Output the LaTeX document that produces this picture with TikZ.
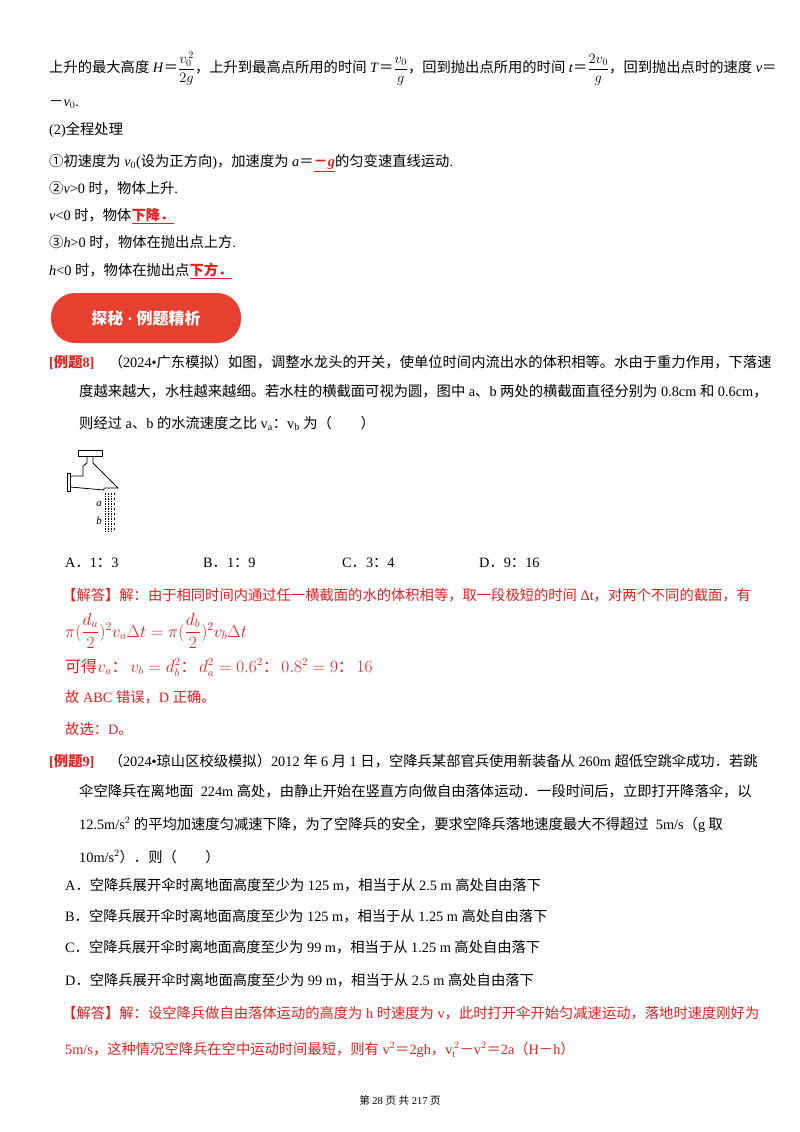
\documentclass[tikz,border=0pt]{standalone}
\usepackage{amsmath}
\usepackage{fontspec}
\setmainfont{Liberation Serif}
\newfontfamily\cjk{Noto Sans CJK SC}
\XeTeXinterchartokenstate=1
\newXeTeXintercharclass\cjkclass
\makeatletter
\def\setcjkrange#1#2{\count255=#1 \loop\XeTeXcharclass\count255=\cjkclass\advance\count255 1 \ifnum\count255<#2 \repeat}
\setcjkrange{"4E00}{"A000}
\setcjkrange{"3000}{"3040}
\setcjkrange{"FF00}{"FFF0}
\setcjkrange{"2460}{"2474}
\XeTeXinterchartoks 0 \cjkclass {\begingroup\cjk}
\XeTeXinterchartoks 4095 \cjkclass {\begingroup\cjk}
\XeTeXinterchartoks \cjkclass 0 {\endgroup}
\XeTeXinterchartoks \cjkclass 4095 {\endgroup}
\makeatother
\definecolor{ans}{RGB}{232,30,30}
\definecolor{ban}{RGB}{232,64,48}
\tikzset{ln/.style={anchor=base west,inner sep=0pt,font=\fontsize{14.3}{17}\selectfont},
 rd/.style={ln,text=ans}}
\newcommand\ul[1]{\underline{#1}}
\begin{document}
\begin{tikzpicture}[x=1pt,y=-1pt]
\useasboundingbox (0,0) rectangle (800,1132);
\fill[white] (0,0) rectangle (800,1132);
\node[ln] (l1) at (49,73) {上升的最大高度 \textit{H}＝$\dfrac{v_0^{\,2}}{2g}$，上升到最高点所用的时间 \textit{T}＝$\dfrac{v_0}{g}$，回到抛出点所用的时间 \textit{t}＝$\dfrac{2v_0}{g}$，回到抛出点时的速度 \textit{v}＝};
\node[ln] (l2) at (49,106) {－\textit{v}$_0$.};
\node[ln] (l3) at (49,134) {(2)全程处理};
\node[ln] (l4) at (49,166) {①初速度为 \textit{v}$_0$(设为正方向)，加速度为 \textit{a}＝{\color{ans}\ul{\textbf{－\textit{g}}}}的匀变速直线运动.};
\node[ln] (l5) at (49,193) {②\textit{v}>0 时，物体上升.};
\node[ln] (l6) at (49,220) {\textit{v}<0 时，物体{\color{ans}\ul{\textbf{下降．}}}};
\node[ln] (l7) at (49,247) {③\textit{h}>0 时，物体在抛出点上方.};
\node[ln] (l8) at (49,275) {\textit{h}<0 时，物体在抛出点{\color{ans}\ul{\textbf{下方．}}}};
\node[fill=ban,rounded corners=24pt,minimum width=190pt,minimum height=50pt,text=white,font=\fontsize{16}{18}\selectfont\bfseries] (ban) at (146,318) {探秘 · 例题精析};
\node[ln] (e8a) at (49,367) {{\color{ans}\textbf{[例题8]}}\quad（2024•广东模拟）如图，调整水龙头的开关，使单位时间内流出水的体积相等。水由于重力作用，下落速};
\node[ln] (e8b) at (79,396) {度越来越大，水柱越来越细。若水柱的横截面可视为圆，图中 a、b 两处的横截面直径分别为 0.8cm 和 0.6cm，};
\node[ln] (e8c) at (79,428) {则经过 a、b 的水流速度之比 v$_\mathrm{a}$：v$_\mathrm{b}$ 为（\qquad）};
% faucet
\draw[line width=0.8pt] (78,450) rectangle (102,456);
\draw[line width=0.8pt] (87,456) -- (87,463) -- (83,466) -- (83,476) -- (70,476) (93,456) -- (93,463) -- (96,466) -- (118,488) -- (104,488) -- (104,490) (70,487) -- (104,490);
\draw[line width=0.8pt] (67,473) rectangle (70,491);
\foreach \y in {493,498,503,508,513,518,523,528}{\draw[densely dotted] (105,\y) -- (105,\y+3) (108,\y) -- (108,\y+3) (111,\y) -- (111,\y+3) (114,\y) -- (114,\y+2);}
\node[font=\itshape\fontsize{11}{12}\selectfont,inner sep=0pt] (a) at (99,504) {a};
\node[font=\itshape\fontsize{11}{12}\selectfont,inner sep=0pt] (b) at (99,521) {b};
\node[ln] (oa) at (65,567) {A．1：3};
\node[ln] (ob) at (203,567) {B．1：9};
\node[ln] (oc) at (342,567) {C．3：4};
\node[ln] (od) at (479,567) {D．9：16};
\node[rd] (s1) at (62,600) {【解答】解：由于相同时间内通过任一横截面的水的体积相等，取一段极短的时间 Δt，对两个不同的截面，有};
\node[rd,font=\fontsize{17}{20}\selectfont] (s2) at (65,637) {$\pi(\dfrac{d_a}{2})^2v_a\Delta t=\pi(\dfrac{d_b}{2})^2v_b\Delta t$};
\node[rd,font=\fontsize{16}{19}\selectfont] (s3) at (65,672) {可得$v_a$：\,$v_b=d_b^2$：\,$d_a^2=0.6^2$：\,$0.8^2=9$：\,$16$};
\node[rd] (s4) at (65,702) {故 ABC 错误，D 正确。};
\node[rd] (s5) at (65,734) {故选：D。};
\node[ln] (e9a) at (49,766) {{\color{ans}\textbf{[例题9]}}\quad（2024•琼山区校级模拟）2012 年 6 月 1 日，空降兵某部官兵使用新装备从 260m 超低空跳伞成功．若跳};
\node[ln] (e9b) at (79,796) {伞空降兵在离地面 \ 224m 高处，由静止开始在竖直方向做自由落体运动．一段时间后，立即打开降落伞，以};
\node[ln] (e9c) at (79,829) {12.5m/s$^2$ 的平均加速度匀减速下降，为了空降兵的安全，要求空降兵落地速度最大不得超过 \ 5m/s（g 取};
\node[ln] (e9d) at (79,862) {10m/s$^2$）．则（\qquad）};
\node[ln] (qa) at (65,890) {A．空降兵展开伞时离地面高度至少为 125 m，相当于从 2.5 m 高处自由落下};
\node[ln] (qb) at (65,921) {B．空降兵展开伞时离地面高度至少为 125 m，相当于从 1.25 m 高处自由落下};
\node[ln] (qc) at (65,952) {C．空降兵展开伞时离地面高度至少为 99 m，相当于从 1.25 m 高处自由落下};
\node[ln] (qd) at (65,985) {D．空降兵展开伞时离地面高度至少为 99 m，相当于从 2.5 m 高处自由落下};
\node[rd] (t1) at (62,1018) {【解答】解：设空降兵做自由落体运动的高度为 h 时速度为 v，此时打开伞开始匀减速运动，落地时速度刚好为};
\node[rd] (t2) at (65,1054) {5m/s，这种情况空降兵在空中运动时间最短，则有 v$^2$＝2gh，v$_\mathrm{t}^{\,2}$－v$^2$＝2a（H－h）};
\node[anchor=base,inner sep=0pt,font=\fontsize{10.5}{12}\selectfont] (ft) at (400,1104) {第 28 页 共 217 页};
\end{tikzpicture}
\end{document}
